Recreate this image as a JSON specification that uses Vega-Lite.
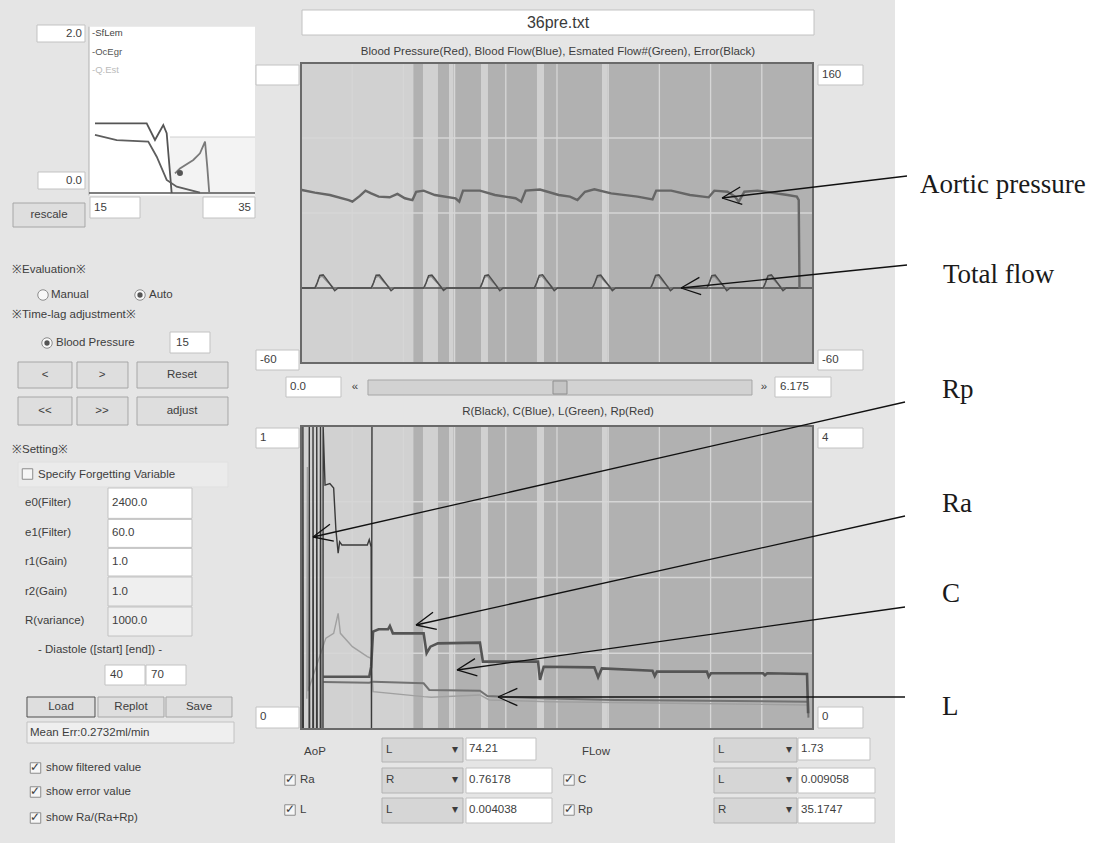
{
"$schema":"https://vega.github.io/schema/vega-lite/v6.json",
"width":1105,"height":843,
"autosize":{"type":"fit","contains":"padding"},
"padding":0,
"background":"#e5e5e5",
"config":{"view":{"stroke":null}},
"datasets":{
"boxes":[
{"kind":"field","t":-3.184,"t2":-2.6051,"p":187.87,"p2":175.4},
{"kind":"field","t":-3.1719,"t2":-2.6051,"p":80.07,"p2":67.6},
{"kind":"field","t":-2.5448,"t2":-1.9417,"p":61.73,"p2":46.33},
{"kind":"field","t":-1.1819,"t2":-0.5548,"p":61.73,"p2":46.33},
{"kind":"button","t":-3.4734,"t2":-2.6051,"p":57.33,"p2":39.73},
{"kind":"field","t":-1.5799,"t2":-1.0975,"p":-37.27,"p2":-52.67},
{"kind":"button","t":-3.4131,"t2":-2.7619,"p":-59.27,"p2":-78.34},
{"kind":"button","t":-2.7016,"t2":-2.0865,"p":-59.27,"p2":-78.34},
{"kind":"button","t":-1.9779,"t2":-0.8804,"p":-59.27,"p2":-78.34},
{"kind":"button","t":-3.4131,"t2":-2.7619,"p":-84.94,"p2":-105.47},
{"kind":"button","t":-2.7016,"t2":-2.0865,"p":-84.94,"p2":-105.47},
{"kind":"button","t":-1.9779,"t2":-0.8804,"p":-84.94,"p2":-105.47},
{"kind":"panel","t":-3.4131,"t2":-0.8804,"p":-132.6,"p2":-150.93},
{"kind":"field","t":-2.3277,"t2":-1.3146,"p":-151.67,"p2":-173.94},
{"kind":"field","t":-2.3277,"t2":-1.3146,"p":-174.67,"p2":-195.21},
{"kind":"field","t":-2.3277,"t2":-1.3146,"p":-195.94,"p2":-216.21},
{"kind":"fieldgray","t":-2.3277,"t2":-1.3146,"p":-216.94,"p2":-238.21},
{"kind":"fieldgray","t":-2.3277,"t2":-1.3146,"p":-238.94,"p2":-260.2},
{"kind":"field","t":-2.3639,"t2":-1.8814,"p":-281.47,"p2":-296.14},
{"kind":"field","t":-1.8694,"t2":-1.3869,"p":-281.47,"p2":-296.14},
{"kind":"focus","t":-3.3046,"t2":-2.4845,"p":-304.94,"p2":-319.6},
{"kind":"button","t":-2.4483,"t2":-1.6523,"p":-304.94,"p2":-319.6},
{"kind":"button","t":-1.6282,"t2":-0.8322,"p":-304.94,"p2":-319.6},
{"kind":"fieldgray","t":-3.3046,"t2":-0.808,"p":-323.27,"p2":-338.67},
{"kind":"field","t":0.0121,"t2":6.1871,"p":198.87,"p2":180.53},
{"kind":"field","t":-0.5427,"t2":-0.0241,"p":158.53,"p2":143.87},
{"kind":"field","t":6.2353,"t2":6.778,"p":158.53,"p2":143.87},
{"kind":"field","t":-0.5427,"t2":-0.0241,"p":-50.47,"p2":-65.14},
{"kind":"field","t":6.2353,"t2":6.778,"p":-50.47,"p2":-65.14},
{"kind":"field","t":-0.1809,"t2":0.4824,"p":-70.27,"p2":-84.94},
{"kind":"slider","t":0.808,"t2":5.4393,"p":-72.47,"p2":-83.47},
{"kind":"thumb","t":3.0393,"t2":3.2081,"p":-73.2,"p2":-82.74},
{"kind":"field","t":5.7167,"t2":6.3921,"p":-70.27,"p2":-84.94},
{"kind":"field","t":-0.5427,"t2":-0.0241,"p":-107.67,"p2":-122.34},
{"kind":"field","t":6.2353,"t2":6.778,"p":-107.67,"p2":-122.34},
{"kind":"field","t":-0.5427,"t2":-0.0241,"p":-312.27,"p2":-327.67},
{"kind":"field","t":6.2353,"t2":6.778,"p":-312.27,"p2":-327.67},
{"kind":"dropdown","t":0.9769,"t2":1.9538,"p":-335.0,"p2":-352.61},
{"kind":"field","t":1.99,"t2":2.8342,"p":-335.0,"p2":-351.14},
{"kind":"dropdown","t":4.981,"t2":5.982,"p":-335.0,"p2":-352.61},
{"kind":"field","t":5.9941,"t2":6.8624,"p":-335.0,"p2":-351.14},
{"kind":"dropdown","t":0.9769,"t2":1.9538,"p":-357.0,"p2":-375.34},
{"kind":"field","t":1.99,"t2":3.0272,"p":-357.0,"p2":-375.34},
{"kind":"dropdown","t":4.981,"t2":5.982,"p":-357.0,"p2":-375.34},
{"kind":"field","t":5.9941,"t2":6.9227,"p":-357.0,"p2":-375.34},
{"kind":"dropdown","t":0.9769,"t2":1.9538,"p":-379.0,"p2":-397.34},
{"kind":"field","t":1.99,"t2":3.0272,"p":-379.0,"p2":-397.34},
{"kind":"dropdown","t":4.981,"t2":5.982,"p":-379.0,"p2":-397.34},
{"kind":"field","t":5.9941,"t2":6.9227,"p":-379.0,"p2":-397.34}
],
"labels":[
{"text":"2.0","t":-2.6413,"p":181.27,"a":"r"},
{"text":"0.0","t":-2.6413,"p":73.47,"a":"r"},
{"text":"15","t":-2.4965,"p":53.67,"a":"l"},
{"text":"35","t":-0.603,"p":53.67,"a":"r"},
{"text":"rescale","t":-3.0392,"p":48.53,"a":"c"},
{"text":"※Evaluation※","t":-3.4855,"p":8.2,"a":"l"},
{"text":"Manual","t":-3.0151,"p":-10.14,"a":"l"},
{"text":"Auto","t":-1.8332,"p":-10.14,"a":"l"},
{"text":"※Time-lag adjustment※","t":-3.4855,"p":-24.8,"a":"l"},
{"text":"Blood Pressure","t":-2.9548,"p":-45.34,"a":"l"},
{"text":"15","t":-1.5076,"p":-45.34,"a":"l"},
{"text":"<","t":-3.0875,"p":-68.8,"a":"c"},
{"text":">","t":-2.4,"p":-68.8,"a":"c"},
{"text":"Reset","t":-1.4352,"p":-68.8,"a":"c"},
{"text":"<<","t":-3.0875,"p":-95.2,"a":"c"},
{"text":">>","t":-2.4,"p":-95.2,"a":"c"},
{"text":"adjust","t":-1.4352,"p":-95.2,"a":"c"},
{"text":"※Setting※","t":-3.4855,"p":-123.8,"a":"l"},
{"text":"Specify Forgetting Variable","t":-3.1719,"p":-142.14,"a":"l"},
{"text":"e0(Filter)","t":-3.3287,"p":-162.67,"a":"l"},
{"text":"2400.0","t":-2.2795,"p":-162.67,"a":"l"},
{"text":"e1(Filter)","t":-3.3287,"p":-184.94,"a":"l"},
{"text":"60.0","t":-2.2795,"p":-184.94,"a":"l"},
{"text":"r1(Gain)","t":-3.3287,"p":-205.94,"a":"l"},
{"text":"1.0","t":-2.2795,"p":-205.94,"a":"l"},
{"text":"r2(Gain)","t":-3.3287,"p":-227.94,"a":"l"},
{"text":"1.0","t":-2.2795,"p":-227.94,"a":"l"},
{"text":"R(variance)","t":-3.3287,"p":-249.2,"a":"l"},
{"text":"1000.0","t":-2.2795,"p":-249.2,"a":"l"},
{"text":"- Diastole ([start] [end]) -","t":-2.4242,"p":-270.47,"a":"c"},
{"text":"40","t":-2.3036,"p":-288.8,"a":"l"},
{"text":"70","t":-1.8091,"p":-288.8,"a":"l"},
{"text":"Load","t":-2.8945,"p":-312.27,"a":"c"},
{"text":"Replot","t":-2.0503,"p":-312.27,"a":"c"},
{"text":"Save","t":-1.2302,"p":-312.27,"a":"c"},
{"text":"Mean Err:0.2732ml/min","t":-3.2684,"p":-331.34,"a":"l"},
{"text":"show filtered value","t":-3.0754,"p":-357.0,"a":"l"},
{"text":"show error value","t":-3.0754,"p":-374.6,"a":"l"},
{"text":"show Ra/(Ra+Rp)","t":-3.0754,"p":-393.67,"a":"l"},
{"text":"✓","t":-3.2021,"p":-357.0,"a":"c"},
{"text":"✓","t":-3.2021,"p":-374.6,"a":"c"},
{"text":"✓","t":-3.2021,"p":-393.67,"a":"c"},
{"text":"Blood Pressure(Red), Blood Flow(Blue), Esmated Flow#(Green), Error(Black)","t":3.0996,"p":168.07,"a":"c"},
{"text":"160","t":6.2836,"p":151.2,"a":"l"},
{"text":"-60","t":-0.4945,"p":-57.8,"a":"l"},
{"text":"-60","t":6.2836,"p":-57.8,"a":"l"},
{"text":"0.0","t":-0.1327,"p":-77.6,"a":"l"},
{"text":"«","t":0.6513,"p":-77.6,"a":"c"},
{"text":"»","t":5.584,"p":-77.6,"a":"c"},
{"text":"6.175","t":5.777,"p":-77.6,"a":"l"},
{"text":"R(Black), C(Blue), L(Green), Rp(Red)","t":3.0996,"p":-95.94,"a":"c"},
{"text":"1","t":-0.4945,"p":-115.0,"a":"l"},
{"text":"4","t":6.2836,"p":-115.0,"a":"l"},
{"text":"0","t":-0.4945,"p":-319.6,"a":"l"},
{"text":"0","t":6.2836,"p":-319.6,"a":"l"},
{"text":"AoP","t":0.1688,"p":-345.27,"a":"c"},
{"text":"L","t":1.0251,"p":-343.8,"a":"l"},
{"text":"▾","t":1.8573,"p":-343.8,"a":"c"},
{"text":"74.21","t":2.0262,"p":-343.07,"a":"l"},
{"text":"FLow","t":3.5579,"p":-345.27,"a":"c"},
{"text":"L","t":5.0292,"p":-343.8,"a":"l"},
{"text":"▾","t":5.8855,"p":-343.8,"a":"c"},
{"text":"1.73","t":6.0302,"p":-343.07,"a":"l"},
{"text":"✓","t":-0.1327,"p":-365.8,"a":"c"},
{"text":"Ra","t":-0.0121,"p":-365.8,"a":"l"},
{"text":"R","t":1.0251,"p":-365.8,"a":"l"},
{"text":"▾","t":1.8573,"p":-365.8,"a":"c"},
{"text":"0.76178","t":2.0262,"p":-365.8,"a":"l"},
{"text":"✓","t":3.2322,"p":-365.8,"a":"c"},
{"text":"C","t":3.3408,"p":-365.8,"a":"l"},
{"text":"L","t":5.0292,"p":-365.8,"a":"l"},
{"text":"▾","t":5.8855,"p":-365.8,"a":"c"},
{"text":"0.009058","t":6.0302,"p":-365.8,"a":"l"},
{"text":"✓","t":-0.1327,"p":-387.8,"a":"c"},
{"text":"L","t":-0.0121,"p":-387.8,"a":"l"},
{"text":"L","t":1.0251,"p":-387.8,"a":"l"},
{"text":"▾","t":1.8573,"p":-387.8,"a":"c"},
{"text":"0.004038","t":2.0262,"p":-387.8,"a":"l"},
{"text":"✓","t":3.2322,"p":-387.8,"a":"c"},
{"text":"Rp","t":3.3408,"p":-387.8,"a":"l"},
{"text":"R","t":5.0292,"p":-387.8,"a":"l"},
{"text":"▾","t":5.8855,"p":-387.8,"a":"c"},
{"text":"35.1747","t":6.0302,"p":-387.8,"a":"l"}
],
"titles":[{"text":"36pre.txt","t":3.0996,"p":189.33}],
"checks":[
{"t":-3.2987,"p":-141.41},{"t":-3.2021,"p":-357.0},{"t":-3.2021,"p":-374.6},{"t":-3.2021,"p":-393.67},
{"t":-0.1327,"p":-365.8},{"t":-0.1327,"p":-387.8},{"t":3.2322,"p":-365.8},{"t":3.2322,"p":-387.8}
],
"radios":[
{"t":-3.1116,"p":-10.14,"on":false},{"t":-1.9417,"p":-10.14,"on":true},{"t":-3.0634,"p":-45.34,"on":true}
],
"bands":[
{"t":1.356,"t2":1.471},{"t":1.652,"t2":1.785},{"t":1.839,"t2":2.171},{"t":2.255,"t2":2.846},{"t":2.931,"t2":3.63},{"t":3.697,"t2":6.175}
],
"vgrid":[{"t":0.6175},{"t":1.235},{"t":1.8525},{"t":2.47},{"t":3.0875},{"t":3.705},{"t":4.3225},{"t":4.94},{"t":5.5575}],
"hgridTop":[{"p":105},{"p":50}],
"hgridBottom":[{"v":1},{"v":2},{"v":3}],
"baseline":[{"p":-5}],
"pressure":[
{"t":0.01,"p":66.9},{"t":0.167,"p":64.9},{"t":0.348,"p":63.2},{"t":0.575,"p":59.5},{"t":0.62,"p":58.3},{"t":0.71,"p":62.5},{"t":0.778,"p":66.4},{"t":0.846,"p":64.4},{"t":0.937,"p":62.0},{"t":1.07,"p":61.5},{"t":1.163,"p":64.0},{"t":1.253,"p":60.8},{"t":1.344,"p":59.5},{"t":1.389,"p":65.6},{"t":1.479,"p":66.4},{"t":1.615,"p":63.2},{"t":1.864,"p":60.8},{"t":1.909,"p":58.3},{"t":1.954,"p":66.4},{"t":2.158,"p":66.4},{"t":2.339,"p":63.2},{"t":2.588,"p":60.8},{"t":2.656,"p":58.3},{"t":2.71,"p":66.4},{"t":2.882,"p":67.2},{"t":3.108,"p":63.2},{"t":3.244,"p":62.0},{"t":3.334,"p":59.5},{"t":3.425,"p":65.6},{"t":3.538,"p":67.4},{"t":3.741,"p":64.4},{"t":4.058,"p":62.0},{"t":4.239,"p":60.0},{"t":4.284,"p":66.4},{"t":4.465,"p":66.4},{"t":4.691,"p":63.2},{"t":4.917,"p":61.5},{"t":4.985,"p":66.4},{"t":5.144,"p":65.6},{"t":5.234,"p":62.0},{"t":5.279,"p":58.3},{"t":5.347,"p":65.6},{"t":5.506,"p":66.4},{"t":5.868,"p":63.2},{"t":5.98,"p":62.0},{"t":6.003,"p":59.5},{"t":6.012,"p":-5.0}
],
"flow":[
{"t":0.0,"p":-5},{"t":0.167,"p":-5},{"t":0.197,"p":-1},{"t":0.227,"p":4.2},{"t":0.267,"p":4.6},{"t":0.307,"p":1.5},{"t":0.367,"p":-3.5},{"t":0.407,"p":-7},{"t":0.447,"p":-5},
{"t":0.846,"p":-5},{"t":0.876,"p":-1},{"t":0.906,"p":4.3},{"t":0.946,"p":4.5},{"t":0.986,"p":1.2},{"t":1.046,"p":-3.6},{"t":1.086,"p":-7},{"t":1.126,"p":-5},
{"t":1.479,"p":-5},{"t":1.509,"p":-1.2},{"t":1.539,"p":4.0},{"t":1.579,"p":4.4},{"t":1.619,"p":1.4},{"t":1.679,"p":-3.5},{"t":1.719,"p":-6.8},{"t":1.759,"p":-5},
{"t":2.158,"p":-5},{"t":2.188,"p":-1},{"t":2.218,"p":4.1},{"t":2.258,"p":4.6},{"t":2.298,"p":1.5},{"t":2.358,"p":-3.4},{"t":2.398,"p":-7},{"t":2.438,"p":-5},
{"t":2.814,"p":-5},{"t":2.844,"p":-1},{"t":2.874,"p":4.3},{"t":2.914,"p":4.7},{"t":2.954,"p":1.3},{"t":3.014,"p":-3.5},{"t":3.054,"p":-7},{"t":3.094,"p":-5},
{"t":3.515,"p":-5},{"t":3.545,"p":-1},{"t":3.575,"p":4.0},{"t":3.615,"p":4.4},{"t":3.655,"p":1.2},{"t":3.715,"p":-3.5},{"t":3.755,"p":-6.9},{"t":3.795,"p":-5},
{"t":4.216,"p":-5},{"t":4.246,"p":-1},{"t":4.276,"p":4.2},{"t":4.316,"p":4.6},{"t":4.356,"p":1.4},{"t":4.416,"p":-3.6},{"t":4.456,"p":-7},{"t":4.496,"p":-5},
{"t":4.895,"p":-5},{"t":4.925,"p":-1},{"t":4.955,"p":4.0},{"t":4.995,"p":4.4},{"t":5.035,"p":1.3},{"t":5.095,"p":-3.5},{"t":5.135,"p":-7},{"t":5.175,"p":-5},
{"t":5.573,"p":-5},{"t":5.603,"p":-1},{"t":5.633,"p":4.1},{"t":5.673,"p":4.6},{"t":5.713,"p":1.4},{"t":5.773,"p":-3.5},{"t":5.813,"p":-7},{"t":5.853,"p":-5},{"t":6.0,"p":-5}
],
"estFlow":[
{"t":0.177,"p":-5},{"t":0.217,"p":2.5},{"t":0.257,"p":3.6},{"t":0.317,"p":-0.5},{"t":0.397,"p":-5},
{"t":0.856,"p":-5},{"t":0.896,"p":2.5},{"t":0.936,"p":3.6},{"t":0.996,"p":-0.5},{"t":1.076,"p":-5},
{"t":1.489,"p":-5},{"t":1.529,"p":2.4},{"t":1.569,"p":3.5},{"t":1.629,"p":-0.5},{"t":1.709,"p":-5},
{"t":2.168,"p":-5},{"t":2.208,"p":2.5},{"t":2.248,"p":3.6},{"t":2.308,"p":-0.5},{"t":2.388,"p":-5},
{"t":2.824,"p":-5},{"t":2.864,"p":2.6},{"t":2.904,"p":3.7},{"t":2.964,"p":-0.5},{"t":3.044,"p":-5},
{"t":3.525,"p":-5},{"t":3.565,"p":2.4},{"t":3.605,"p":3.5},{"t":3.665,"p":-0.5},{"t":3.745,"p":-5},
{"t":4.226,"p":-5},{"t":4.266,"p":2.5},{"t":4.306,"p":3.6},{"t":4.366,"p":-0.5},{"t":4.446,"p":-5},
{"t":4.905,"p":-5},{"t":4.945,"p":2.4},{"t":4.985,"p":3.5},{"t":5.045,"p":-0.5},{"t":5.125,"p":-5},
{"t":5.583,"p":-5},{"t":5.623,"p":2.5},{"t":5.663,"p":3.6},{"t":5.723,"p":-0.5},{"t":5.803,"p":-5}
],
"seriesR":[
{"t":0.27,"v":0.69},{"t":0.823,"v":0.69},{"t":0.846,"v":0.82},{"t":0.869,"v":1.285},{"t":0.936,"v":1.316},{"t":1.05,"v":1.316},{"t":1.072,"v":1.36},{"t":1.108,"v":1.263},{"t":1.479,"v":1.263},{"t":1.515,"v":1.0},{"t":1.561,"v":1.087},{"t":1.651,"v":1.13},{"t":2.158,"v":1.14},{"t":2.194,"v":0.89},{"t":2.859,"v":0.89},{"t":2.882,"v":0.647},{"t":2.927,"v":0.822},{"t":3.538,"v":0.814},{"t":3.583,"v":0.682},{"t":3.628,"v":0.8},{"t":4.239,"v":0.77},{"t":4.266,"v":0.7},{"t":4.293,"v":0.757},{"t":4.895,"v":0.757},{"t":4.917,"v":0.69},{"t":4.945,"v":0.735},{"t":5.573,"v":0.735},{"t":5.596,"v":0.709},{"t":5.623,"v":0.735},{"t":6.103,"v":0.726},{"t":6.116,"v":0.207}
],
"seriesC":[
{"t":0.27,"v":0.62},{"t":0.823,"v":0.611},{"t":0.869,"v":0.625},{"t":1.479,"v":0.603},{"t":1.547,"v":0.515},{"t":2.158,"v":0.506},{"t":2.248,"v":0.436},{"t":2.882,"v":0.405},{"t":3.786,"v":0.383},{"t":6.116,"v":0.36},{"t":6.12,"v":0.15}
],
"seriesL":[
{"t":0.07,"v":0.4},{"t":0.077,"v":3.46},{"t":0.084,"v":0.5},{"t":0.3,"v":1.2},{"t":0.394,"v":1.263},{"t":0.448,"v":1.527},{"t":0.475,"v":1.263},{"t":0.62,"v":1.087},{"t":0.8,"v":0.955},{"t":0.846,"v":0.933},{"t":0.869,"v":0.493},{"t":1.479,"v":0.427},{"t":1.57,"v":0.42},{"t":2.158,"v":0.449},{"t":2.271,"v":0.383},{"t":3.0,"v":0.36},{"t":4.5,"v":0.34},{"t":6.116,"v":0.317}
],
"seriesRp":[
{"t":0.02,"v":0},{"t":0.023,"v":4},{"t":0.028,"v":0},{"t":0.098,"v":0},{"t":0.1,"v":4},{"t":0.104,"v":0},{"t":0.143,"v":0},{"t":0.145,"v":4},{"t":0.15,"v":0},{"t":0.188,"v":0},{"t":0.19,"v":4},{"t":0.195,"v":0},{"t":0.233,"v":0},{"t":0.235,"v":4},{"t":0.24,"v":0},{"t":0.265,"v":0},{"t":0.267,"v":4},{"t":0.29,"v":3.22},{"t":0.348,"v":3.24},{"t":0.394,"v":3.18},{"t":0.421,"v":2.63},{"t":0.448,"v":2.32},{"t":0.466,"v":2.47},{"t":0.493,"v":2.43},{"t":0.8,"v":2.43},{"t":0.823,"v":2.5},{"t":0.846,"v":2.4},{"t":0.85,"v":0},{"t":0.856,"v":4}
],
"arrowsTop":[
{"t":5.0775,"p":61.0,"t2":7.3087,"p2":77.13,"angle":-6.8},
{"t":4.583,"p":-5.0,"t2":7.3087,"p2":11.87,"angle":-5.8}
],
"annotTop":[
{"label":"Aortic pressure","t":7.4655,"p":64.67},
{"label":"Total flow","t":7.7429,"p":-1.33}
],
"arrowsBottom":[
{"t":0.1447,"v":2.5347,"t2":7.2846,"v2":4.3168,"angle":-12.85},
{"t":1.387,"v":1.3729,"t2":7.2846,"v2":2.8119,"angle":-12.57},
{"t":1.8814,"v":0.7789,"t2":7.2846,"v2":1.6106,"angle":-8.0},
{"t":2.3759,"v":0.4224,"t2":7.2846,"v2":0.4224,"angle":0}
],
"annotBottom":[
{"label":"Rp","t":7.7308,"v":4.3697},
{"label":"Ra","t":7.7308,"v":2.8647},
{"label":"C","t":7.7308,"v":1.6766},
{"label":"L","t":7.7308,"v":0.1848}
],
"small":[
{"s":"a","sx":15.72,"sy":0.855},{"s":"a","sx":21.95,"sy":0.855},{"s":"a","sx":22.95,"sy":0.65},{"s":"a","sx":23.95,"sy":0.834},{"s":"a","sx":24.36,"sy":0.733},{"s":"a","sx":24.96,"sy":0.0},
{"s":"b","sx":15.72,"sy":0.712},{"s":"b","sx":18.34,"sy":0.65},{"s":"b","sx":22.14,"sy":0.63},{"s":"b","sx":23.16,"sy":0.445},{"s":"b","sx":24.36,"sy":0.16},{"s":"b","sx":25.57,"sy":0.078},{"s":"b","sx":28.37,"sy":0.004},
{"s":"c","sx":25.36,"sy":0.24},{"s":"c","sx":25.96,"sy":0.3},{"s":"c","sx":27.57,"sy":0.405},{"s":"c","sx":28.37,"sy":0.487},{"s":"c","sx":28.98,"sy":0.63},{"s":"c","sx":29.25,"sy":0.32},{"s":"c","sx":29.49,"sy":0.0}
],
"smallDot":[{"sx":25.96,"sy":0.245}],
"smallLegend":[
{"label":"-SfLem","s":"a","sx":15.36,"sy":1.963},
{"label":"-OcEgr","s":"b","sx":15.36,"sy":1.73},
{"label":"-Q.Est","s":"c","sx":15.36,"sy":1.509}
]
},
"resolve":{"scale":{"x":"independent","y":"independent","fill":"independent","stroke":"independent"}},
"layer":[
{
"layer":[
{"data":{"values":[{}]},"mark":{"type":"rect","fill":"#ffffff"},"encoding":{
"x":{"datum":7.164,"type":"quantitative","scale":{"domain":[-3.6302,9.6967],"nice":false,"zero":false},"axis":null},"x2":{"datum":9.6967},
"y":{"datum":-412.0,"type":"quantitative","scale":{"domain":[-412.0,206.2],"nice":false,"zero":false},"axis":null},"y2":{"datum":206.2}}},
{"data":{"name":"boxes"},"mark":{"type":"rect","strokeWidth":1},"encoding":{
"x":{"field":"t","type":"quantitative","scale":{"domain":[-3.6302,9.6967],"nice":false,"zero":false},"axis":null},"x2":{"field":"t2"},
"y":{"field":"p","type":"quantitative","scale":{"domain":[-412.0,206.2],"nice":false,"zero":false},"axis":null},"y2":{"field":"p2"},
"fill":{"field":"kind","type":"nominal","legend":null,"scale":{"domain":["field","fieldgray","button","focus","panel","slider","dropdown","thumb"],"range":["#ffffff","#efefef","#dedede","#dedede","#ebebeb","#d2d2d2","#d6d6d6","#c4c4c4"]}},
"stroke":{"field":"kind","type":"nominal","legend":null,"scale":{"domain":["field","fieldgray","button","focus","panel","slider","dropdown","thumb"],"range":["#c2c2c2","#c2c2c2","#a6a6a6","#4f4f4f","#e0e0e0","#a6a6a6","#b4b4b4","#8f8f8f"]}}}},
{"data":{"values":[{}]},"mark":{"type":"rect","fill":"#d1d1d1"},"encoding":{
"x":{"datum":0,"type":"quantitative","scale":{"domain":[-3.6302,9.6967],"nice":false,"zero":false},"axis":null},"x2":{"datum":6.175},
"y":{"datum":-60,"type":"quantitative","scale":{"domain":[-412.0,206.2],"nice":false,"zero":false},"axis":null},"y2":{"datum":160}}},
{"data":{"name":"bands"},"mark":{"type":"rect","fill":"#b1b1b1"},"encoding":{
"x":{"field":"t","type":"quantitative","scale":{"domain":[-3.6302,9.6967],"nice":false,"zero":false},"axis":null},"x2":{"field":"t2"},
"y":{"datum":-60,"type":"quantitative","scale":{"domain":[-412.0,206.2],"nice":false,"zero":false},"axis":null},"y2":{"datum":160}}},
{"data":{"name":"vgrid"},"mark":{"type":"rule","stroke":"#d6d6d6","strokeWidth":1.3},"encoding":{
"x":{"field":"t","type":"quantitative","scale":{"domain":[-3.6302,9.6967],"nice":false,"zero":false},"axis":null},
"y":{"datum":-60,"type":"quantitative","scale":{"domain":[-412.0,206.2],"nice":false,"zero":false},"axis":null},"y2":{"datum":160}}},
{"data":{"name":"hgridTop"},"mark":{"type":"rule","stroke":"#d6d6d6","strokeWidth":1.3},"encoding":{
"x":{"datum":0,"type":"quantitative","scale":{"domain":[-3.6302,9.6967],"nice":false,"zero":false},"axis":null},"x2":{"datum":6.175},
"y":{"field":"p","type":"quantitative","scale":{"domain":[-412.0,206.2],"nice":false,"zero":false},"axis":null}}},
{"data":{"name":"baseline"},"mark":{"type":"rule","stroke":"#4a4a4a","strokeWidth":1.6},"encoding":{
"x":{"datum":0,"type":"quantitative","scale":{"domain":[-3.6302,9.6967],"nice":false,"zero":false},"axis":null},"x2":{"datum":6.175},
"y":{"field":"p","type":"quantitative","scale":{"domain":[-412.0,206.2],"nice":false,"zero":false},"axis":null}}},
{"data":{"name":"estFlow"},"mark":{"type":"line","stroke":"#8a8a8a","strokeWidth":1.2},"encoding":{
"x":{"field":"t","type":"quantitative","scale":{"domain":[-3.6302,9.6967],"nice":false,"zero":false},"axis":null},
"y":{"field":"p","type":"quantitative","scale":{"domain":[-412.0,206.2],"nice":false,"zero":false},"axis":null}}},
{"data":{"name":"flow"},"mark":{"type":"line","stroke":"#4d4d4d","strokeWidth":1.5},"encoding":{
"x":{"field":"t","type":"quantitative","scale":{"domain":[-3.6302,9.6967],"nice":false,"zero":false},"axis":null},
"y":{"field":"p","type":"quantitative","scale":{"domain":[-412.0,206.2],"nice":false,"zero":false},"axis":null}}},
{"data":{"name":"pressure"},"mark":{"type":"line","stroke":"#666666","strokeWidth":2.4},"encoding":{
"x":{"field":"t","type":"quantitative","scale":{"domain":[-3.6302,9.6967],"nice":false,"zero":false},"axis":null},
"y":{"field":"p","type":"quantitative","scale":{"domain":[-412.0,206.2],"nice":false,"zero":false},"axis":null}}},
{"data":{"values":[{}]},"mark":{"type":"rect","fillOpacity":0,"stroke":"#6a6a6a","strokeWidth":2},"encoding":{
"x":{"datum":0,"type":"quantitative","scale":{"domain":[-3.6302,9.6967],"nice":false,"zero":false},"axis":null},"x2":{"datum":6.175},
"y":{"datum":-60,"type":"quantitative","scale":{"domain":[-412.0,206.2],"nice":false,"zero":false},"axis":null},"y2":{"datum":160}}},
{"data":{"name":"checks"},"mark":{"type":"point","shape":"square","filled":true,"fill":"#f6f6f6","stroke":"#8c8c8c","strokeWidth":1,"size":110,"opacity":1},"encoding":{
"x":{"field":"t","type":"quantitative","scale":{"domain":[-3.6302,9.6967],"nice":false,"zero":false},"axis":null},
"y":{"field":"p","type":"quantitative","scale":{"domain":[-412.0,206.2],"nice":false,"zero":false},"axis":null}}},
{"data":{"name":"radios"},"mark":{"type":"point","shape":"circle","filled":true,"fill":"#f8f8f8","stroke":"#8c8c8c","strokeWidth":1,"size":110,"opacity":1},"encoding":{
"x":{"field":"t","type":"quantitative","scale":{"domain":[-3.6302,9.6967],"nice":false,"zero":false},"axis":null},
"y":{"field":"p","type":"quantitative","scale":{"domain":[-412.0,206.2],"nice":false,"zero":false},"axis":null}}},
{"data":{"name":"radios"},"transform":[{"filter":"datum.on"}],"mark":{"type":"point","shape":"circle","filled":true,"fill":"#555555","size":28,"opacity":1},"encoding":{
"x":{"field":"t","type":"quantitative","scale":{"domain":[-3.6302,9.6967],"nice":false,"zero":false},"axis":null},
"y":{"field":"p","type":"quantitative","scale":{"domain":[-412.0,206.2],"nice":false,"zero":false},"axis":null}}},
{"data":{"name":"labels"},"transform":[{"filter":"datum.a === 'l'"}],"mark":{"type":"text","align":"left","baseline":"middle","font":"Liberation Sans","fontSize":11.5,"fill":"#3d3d3d"},"encoding":{
"x":{"field":"t","type":"quantitative","scale":{"domain":[-3.6302,9.6967],"nice":false,"zero":false},"axis":null},
"y":{"field":"p","type":"quantitative","scale":{"domain":[-412.0,206.2],"nice":false,"zero":false},"axis":null},
"text":{"field":"text"}}},
{"data":{"name":"labels"},"transform":[{"filter":"datum.a === 'c'"}],"mark":{"type":"text","align":"center","baseline":"middle","font":"Liberation Sans","fontSize":11.5,"fill":"#3d3d3d"},"encoding":{
"x":{"field":"t","type":"quantitative","scale":{"domain":[-3.6302,9.6967],"nice":false,"zero":false},"axis":null},
"y":{"field":"p","type":"quantitative","scale":{"domain":[-412.0,206.2],"nice":false,"zero":false},"axis":null},
"text":{"field":"text"}}},
{"data":{"name":"labels"},"transform":[{"filter":"datum.a === 'r'"}],"mark":{"type":"text","align":"right","baseline":"middle","font":"Liberation Sans","fontSize":11.5,"fill":"#3d3d3d"},"encoding":{
"x":{"field":"t","type":"quantitative","scale":{"domain":[-3.6302,9.6967],"nice":false,"zero":false},"axis":null},
"y":{"field":"p","type":"quantitative","scale":{"domain":[-412.0,206.2],"nice":false,"zero":false},"axis":null},
"text":{"field":"text"}}},
{"data":{"name":"titles"},"mark":{"type":"text","align":"center","baseline":"middle","font":"Liberation Sans","fontSize":16,"fill":"#3a3a3a"},"encoding":{
"x":{"field":"t","type":"quantitative","scale":{"domain":[-3.6302,9.6967],"nice":false,"zero":false},"axis":null},
"y":{"field":"p","type":"quantitative","scale":{"domain":[-412.0,206.2],"nice":false,"zero":false},"axis":null},
"text":{"field":"text"}}},
{"data":{"name":"arrowsTop"},"mark":{"type":"rule","stroke":"#111111","strokeWidth":1.3},"encoding":{
"x":{"field":"t","type":"quantitative","scale":{"domain":[-3.6302,9.6967],"nice":false,"zero":false},"axis":null},"x2":{"field":"t2"},
"y":{"field":"p","type":"quantitative","scale":{"domain":[-412.0,206.2],"nice":false,"zero":false},"axis":null},"y2":{"field":"p2"}}},
{"data":{"name":"arrowsTop"},"mark":{"type":"point","shape":"M0,0L1,-0.45M0,0L1,0.45","filled":false,"stroke":"#111111","strokeWidth":1.3,"size":1500,"opacity":1},"encoding":{
"x":{"field":"t","type":"quantitative","scale":{"domain":[-3.6302,9.6967],"nice":false,"zero":false},"axis":null},
"y":{"field":"p","type":"quantitative","scale":{"domain":[-412.0,206.2],"nice":false,"zero":false},"axis":null},
"angle":{"field":"angle","type":"quantitative","scale":null}}},
{"data":{"name":"annotTop"},"mark":{"type":"text","align":"left","baseline":"alphabetic","font":"Liberation Serif","fontSize":27,"fill":"#1a1a1a"},"encoding":{
"x":{"field":"t","type":"quantitative","scale":{"domain":[-3.6302,9.6967],"nice":false,"zero":false},"axis":null},
"y":{"field":"p","type":"quantitative","scale":{"domain":[-412.0,206.2],"nice":false,"zero":false},"axis":null},
"text":{"field":"label"}}}
]
},
{
"layer":[
{"data":{"values":[{}]},"mark":{"type":"rect","fill":"#d1d1d1"},"encoding":{
"x":{"datum":0,"type":"quantitative","scale":{"domain":[-3.6302,9.6967],"nice":false,"zero":false},"axis":null},"x2":{"datum":6.175},
"y":{"datum":0,"type":"quantitative","scale":{"domain":[-1.505,9.6238],"nice":false,"zero":false},"axis":null},"y2":{"datum":4}}},
{"data":{"name":"bands"},"mark":{"type":"rect","fill":"#b1b1b1"},"encoding":{
"x":{"field":"t","type":"quantitative","scale":{"domain":[-3.6302,9.6967],"nice":false,"zero":false},"axis":null},"x2":{"field":"t2"},
"y":{"datum":0,"type":"quantitative","scale":{"domain":[-1.505,9.6238],"nice":false,"zero":false},"axis":null},"y2":{"datum":4}}},
{"data":{"name":"vgrid"},"mark":{"type":"rule","stroke":"#d6d6d6","strokeWidth":1.3},"encoding":{
"x":{"field":"t","type":"quantitative","scale":{"domain":[-3.6302,9.6967],"nice":false,"zero":false},"axis":null},
"y":{"datum":0,"type":"quantitative","scale":{"domain":[-1.505,9.6238],"nice":false,"zero":false},"axis":null},"y2":{"datum":4}}},
{"data":{"name":"hgridBottom"},"mark":{"type":"rule","stroke":"#d6d6d6","strokeWidth":1.3},"encoding":{
"x":{"datum":0,"type":"quantitative","scale":{"domain":[-3.6302,9.6967],"nice":false,"zero":false},"axis":null},"x2":{"datum":6.175},
"y":{"field":"v","type":"quantitative","scale":{"domain":[-1.505,9.6238],"nice":false,"zero":false},"axis":null}}},
{"data":{"name":"seriesL"},"mark":{"type":"line","stroke":"#a0a0a0","strokeWidth":1.4},"encoding":{
"x":{"field":"t","type":"quantitative","scale":{"domain":[-3.6302,9.6967],"nice":false,"zero":false},"axis":null},
"y":{"field":"v","type":"quantitative","scale":{"domain":[-1.505,9.6238],"nice":false,"zero":false},"axis":null}}},
{"data":{"name":"seriesC"},"mark":{"type":"line","stroke":"#727272","strokeWidth":2},"encoding":{
"x":{"field":"t","type":"quantitative","scale":{"domain":[-3.6302,9.6967],"nice":false,"zero":false},"axis":null},
"y":{"field":"v","type":"quantitative","scale":{"domain":[-1.505,9.6238],"nice":false,"zero":false},"axis":null}}},
{"data":{"name":"seriesR"},"mark":{"type":"line","stroke":"#555555","strokeWidth":2.6},"encoding":{
"x":{"field":"t","type":"quantitative","scale":{"domain":[-3.6302,9.6967],"nice":false,"zero":false},"axis":null},
"y":{"field":"v","type":"quantitative","scale":{"domain":[-1.505,9.6238],"nice":false,"zero":false},"axis":null}}},
{"data":{"name":"seriesRp"},"mark":{"type":"line","stroke":"#3a3a3a","strokeWidth":1.4},"encoding":{
"x":{"field":"t","type":"quantitative","scale":{"domain":[-3.6302,9.6967],"nice":false,"zero":false},"axis":null},
"y":{"field":"v","type":"quantitative","scale":{"domain":[-1.505,9.6238],"nice":false,"zero":false},"axis":null}}},
{"data":{"values":[{}]},"mark":{"type":"rect","fillOpacity":0,"stroke":"#6a6a6a","strokeWidth":2},"encoding":{
"x":{"datum":0,"type":"quantitative","scale":{"domain":[-3.6302,9.6967],"nice":false,"zero":false},"axis":null},"x2":{"datum":6.175},
"y":{"datum":0,"type":"quantitative","scale":{"domain":[-1.505,9.6238],"nice":false,"zero":false},"axis":null},"y2":{"datum":4}}},
{"data":{"name":"arrowsBottom"},"mark":{"type":"rule","stroke":"#111111","strokeWidth":1.3},"encoding":{
"x":{"field":"t","type":"quantitative","scale":{"domain":[-3.6302,9.6967],"nice":false,"zero":false},"axis":null},"x2":{"field":"t2"},
"y":{"field":"v","type":"quantitative","scale":{"domain":[-1.505,9.6238],"nice":false,"zero":false},"axis":null},"y2":{"field":"v2"}}},
{"data":{"name":"arrowsBottom"},"mark":{"type":"point","shape":"M0,0L1,-0.45M0,0L1,0.45","filled":false,"stroke":"#111111","strokeWidth":1.3,"size":1500,"opacity":1},"encoding":{
"x":{"field":"t","type":"quantitative","scale":{"domain":[-3.6302,9.6967],"nice":false,"zero":false},"axis":null},
"y":{"field":"v","type":"quantitative","scale":{"domain":[-1.505,9.6238],"nice":false,"zero":false},"axis":null},
"angle":{"field":"angle","type":"quantitative","scale":null}}},
{"data":{"name":"annotBottom"},"mark":{"type":"text","align":"left","baseline":"alphabetic","font":"Liberation Serif","fontSize":27,"fill":"#1a1a1a"},"encoding":{
"x":{"field":"t","type":"quantitative","scale":{"domain":[-3.6302,9.6967],"nice":false,"zero":false},"axis":null},
"y":{"field":"v","type":"quantitative","scale":{"domain":[-1.505,9.6238],"nice":false,"zero":false},"axis":null},
"text":{"field":"label"}}}
]
},
{
"layer":[
{"data":{"values":[{}]},"mark":{"type":"rect","fill":"#ffffff"},"encoding":{
"x":{"datum":15,"type":"quantitative","scale":{"domain":[4.277,137.41],"nice":false,"zero":false},"axis":null},"x2":{"datum":35},
"y":{"datum":-0.03,"type":"quantitative","scale":{"domain":[-7.975,2.368],"nice":false,"zero":false},"axis":null},"y2":{"datum":2.04}}},
{"data":{"values":[{}]},"mark":{"type":"rect","fill":"#f3f3f3"},"encoding":{
"x":{"datum":24.76,"type":"quantitative","scale":{"domain":[4.277,137.41],"nice":false,"zero":false},"axis":null},"x2":{"datum":35},
"y":{"datum":-0.025,"type":"quantitative","scale":{"domain":[-7.975,2.368],"nice":false,"zero":false},"axis":null},"y2":{"datum":0.687}}},
{"data":{"values":[{}]},"mark":{"type":"rule","stroke":"#d0d0d0","strokeWidth":1},"encoding":{
"x":{"datum":24.76,"type":"quantitative","scale":{"domain":[4.277,137.41],"nice":false,"zero":false},"axis":null},"x2":{"datum":35},
"y":{"datum":0.687,"type":"quantitative","scale":{"domain":[-7.975,2.368],"nice":false,"zero":false},"axis":null}}},
{"data":{"values":[{}]},"mark":{"type":"rule","stroke":"#b0b0b0","strokeWidth":1},"encoding":{
"x":{"datum":15,"type":"quantitative","scale":{"domain":[4.277,137.41],"nice":false,"zero":false},"axis":null},
"y":{"datum":-0.03,"type":"quantitative","scale":{"domain":[-7.975,2.368],"nice":false,"zero":false},"axis":null},"y2":{"datum":2.04}}},
{"data":{"values":[{}]},"mark":{"type":"rule","stroke":"#555555","strokeWidth":1.5},"encoding":{
"x":{"datum":15,"type":"quantitative","scale":{"domain":[4.277,137.41],"nice":false,"zero":false},"axis":null},"x2":{"datum":35},
"y":{"datum":0,"type":"quantitative","scale":{"domain":[-7.975,2.368],"nice":false,"zero":false},"axis":null}}},
{"data":{"name":"small"},"mark":{"type":"line","strokeWidth":1.8},"encoding":{
"x":{"field":"sx","type":"quantitative","scale":{"domain":[4.277,137.41],"nice":false,"zero":false},"axis":null},
"y":{"field":"sy","type":"quantitative","scale":{"domain":[-7.975,2.368],"nice":false,"zero":false},"axis":null},
"stroke":{"field":"s","type":"nominal","legend":null,"scale":{"domain":["a","b","c"],"range":["#555555","#5e5e5e","#7a7a7a"]}}}},
{"data":{"name":"smallDot"},"mark":{"type":"point","shape":"circle","filled":true,"fill":"#555555","size":36,"opacity":1},"encoding":{
"x":{"field":"sx","type":"quantitative","scale":{"domain":[4.277,137.41],"nice":false,"zero":false},"axis":null},
"y":{"field":"sy","type":"quantitative","scale":{"domain":[-7.975,2.368],"nice":false,"zero":false},"axis":null}}},
{"data":{"name":"smallLegend"},"mark":{"type":"text","align":"left","baseline":"middle","font":"Liberation Sans","fontSize":9.5},"encoding":{
"x":{"field":"sx","type":"quantitative","scale":{"domain":[4.277,137.41],"nice":false,"zero":false},"axis":null},
"y":{"field":"sy","type":"quantitative","scale":{"domain":[-7.975,2.368],"nice":false,"zero":false},"axis":null},
"text":{"field":"label"},
"fill":{"field":"s","type":"nominal","legend":null,"scale":{"domain":["a","b","c"],"range":["#444444","#555555","#bbbbbb"]}}}}
]
}
]
}
